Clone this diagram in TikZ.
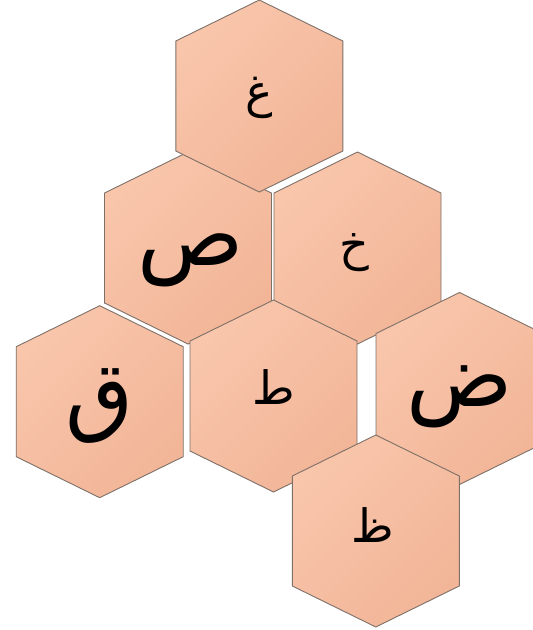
\documentclass[tikz,border=0pt]{standalone}
\usepackage{fontspec}
\newfontfamily\arabicfont[Script=Arabic]{DejaVu Sans}
\TeXXeTstate=1
\definecolor{hexlight}{RGB}{249,198,171}
\definecolor{hexdark}{RGB}{242,181,152}
\definecolor{hexedge}{RGB}{125,112,104}
\tikzset{
  hexcell/.pic={\path[draw=hexedge,line width=.9pt,top color=hexlight,bottom color=hexdark,shading angle=45]
    (0,-96)--(83.5,-55)--(83.5,55)--(0,96)--(-83.5,55)--(-83.5,-55)--cycle;},
  letter/.style={font=\arabicfont\fontsize{46}{54}\selectfont,inner sep=0pt},
  bigletter/.style={letter,font=\arabicfont\fontsize{88}{100}\selectfont}}
\begin{document}
\begin{tikzpicture}[x=1pt,y=-1pt]
  \path[use as bounding box] (0,0) rectangle (533,630);
  \coordinate (Q) at (99.7,401.7);
  \coordinate (S) at (188,248);
  \coordinate (Kh) at (357.5,248);
  \coordinate (Gh) at (259.3,96);
  \coordinate (T) at (273.5,396);
  \coordinate (D) at (459.5,388.5);
  \coordinate (Z) at (375.8,531);
  \foreach \c in {Q,S,Kh,Gh,T,D,Z} \pic at (\c) {hexcell};
  \node[bigletter,yshift=-4pt] (qaf) at (Q) {\beginR ق\endR};
  \node[bigletter,yshift=-12pt,xshift=3pt] (sad) at (S) {\beginR ص\endR};
  \node[letter,yshift=-5pt,xshift=-3pt] (khah) at (Kh) {\beginR خ\endR};
  \node[letter,yshift=-2pt] (ghain) at (Gh) {\beginR غ\endR};
  \node[letter,yshift=9pt] (tah) at (T) {\beginR ط\endR};
  \node[bigletter,yshift=-8pt] (dad) at (D) {\beginR ض\endR};
  \node[letter,yshift=6pt,xshift=-3pt] (zah) at (Z) {\beginR ظ\endR};
\end{tikzpicture}
\end{document}
